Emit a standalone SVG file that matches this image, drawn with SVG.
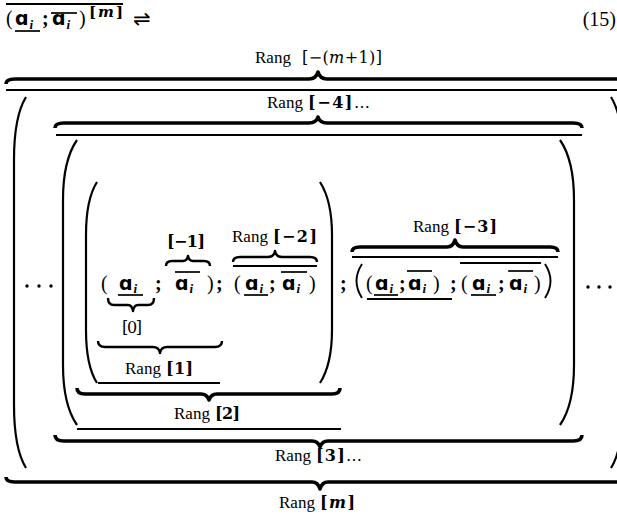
<svg xmlns="http://www.w3.org/2000/svg" width="617" height="514" viewBox="0 0 617 514">
<style>
.lbl{font-family:"Liberation Serif","Times New Roman",serif;font-size:17px;fill:#000}
.mb{font-family:"DejaVu Serif",serif;font-size:16px;fill:#000}
.bd{font-weight:bold}
.it{font-style:italic}
.al{font-family:"DejaVu Sans",sans-serif;font-weight:bold;font-size:19px;fill:#000}
.sub{font-family:"Liberation Serif",serif;font-weight:bold;font-style:italic;font-size:13px;fill:#000}
.p{font-family:"Liberation Serif","Times New Roman",serif;font-size:20px;fill:#000}
.sc{font-family:"Liberation Serif","Times New Roman",serif;font-size:20px;font-weight:bold;fill:#000}
.rule{stroke:#000;stroke-width:2.2;fill:none}
.thin{stroke:#000;stroke-width:1.7;fill:none}
.br{fill:none;stroke:#000;stroke-width:3.6;stroke-linejoin:round}
.brs{fill:none;stroke:#000;stroke-width:2.4;stroke-linejoin:round}
.par{fill:none;stroke:#000;stroke-width:2.2}
</style>
<rect width="617" height="514" fill="#fff"/>

<g id="title">
  <line class="rule" x1="6" y1="4" x2="123" y2="4"/>
  <text class="p" x="6" y="25">(</text>
  <text class="al" x="15" y="25">ɑ</text><text class="sub" x="29.5" y="29">i</text>
  <line class="thin" x1="15" y1="31" x2="40" y2="31"/>
  <text class="sc" x="42" y="25">;</text>
  <text class="al" x="52" y="25">ɑ</text><text class="sub" x="66.5" y="29">i</text>
  <line class="thin" x1="51" y1="13" x2="77" y2="13"/>
  <text class="p" x="79" y="25">)</text>
  <text class="mb bd" x="89" y="17" textLength="34" lengthAdjust="spacing" style="font-size:15px">[<tspan class="it">m</tspan>]</text>
  <text x="133" y="26" style="font-family:'DejaVu Sans',sans-serif;font-size:21px">⇌</text>
  <text class="p" x="616" y="26" text-anchor="end">(15)</text>
</g>

<g id="braces">
  <path class="br" d="M6,84 Q6,79 15,79 L309,79 Q316,79 318,72 Q320,79 327,79 L622,79 Q631,79 631,84"/>
  <path class="br" d="M55,128 Q55,123 64,123 L309,123 Q316,123 318,117 Q320,123 327,123 L573,123 Q582,123 582,128"/>
  <path class="brs" d="M166,266 Q166,261 172,261 L183,261 Q187,261 188,256 Q189,261 193,261 L204,261 Q210,261 210,266"/>
  <path class="brs" d="M233,262 Q233,257 240,257 L268,257 Q274,257 275,251 Q276,257 282,257 L310,257 Q317,257 317,262"/>
  <path class="br" d="M352,252 Q352,247 360,247 L447,247 Q453,247 455,240 Q457,247 463,247 L550,247 Q558,247 558,252"/>
  <path class="brs" d="M108,298 Q108,305 114,305 L128,305 Q132,305 133,311 Q134,305 138,305 L148,305 Q154,305 154,298"/>
  <path class="brs" d="M98,341 Q98,347 105,347 L153,347 Q159,347 160,353 Q161,347 167,347 L215,347 Q222,347 222,341"/>
  <path class="br" d="M77,388 Q77,394 85,394 L201,394 Q207,394 209,400 Q211,394 217,394 L332,394 Q340,394 340,388"/>
  <path class="br" d="M55,435 Q55,441 64,441 L312,441 Q318,441 320,447 Q322,441 328,441 L573,441 Q582,441 582,435"/>
  <path class="br" d="M6,477 Q6,482 15,482 L312,482 Q318,482 320,489 Q322,482 328,482 L622,482 Q631,482 631,477"/>
</g>

<g id="rules">
  <line class="rule" x1="6" y1="90" x2="617" y2="90"/>
  <line class="rule" x1="56" y1="135" x2="582" y2="135"/>
  <line class="rule" x1="233" y1="266" x2="317" y2="266"/>
  <line class="rule" x1="352" y1="257" x2="558" y2="257"/>
  <line class="rule" x1="460" y1="263" x2="541" y2="263"/>
  <line class="rule" x1="367" y1="299" x2="452" y2="299"/>
  <line class="rule" x1="98" y1="383" x2="220" y2="383"/>
  <line class="rule" x1="77" y1="429" x2="341" y2="429"/>
</g>

<g id="parens">
  <path class="par" d="M26,97 C18,110 14,128 14,160 L14,405 C14,437 18,455 26,468"/>
  <path class="par" d="M611,97 C619,110 623,128 623,160 L623,405 C623,437 619,455 611,468"/>
  <path class="par" d="M77,140 C68,153 63,172 63,200 L63,365 C63,393 68,412 77,425"/>
  <path class="par" d="M560,140 C569,153 574,172 574,200 L574,365 C574,393 569,412 560,425"/>
  <path class="par" d="M97,182 C90,193 86,210 86,235 L86,330 C86,355 90,372 97,383"/>
  <path class="par" d="M320,182 C327,193 332,210 332,235 L332,330 C332,355 327,372 320,383"/>
  <path class="par" d="M362,264 Q351,281 362,298" style="stroke-width:1.9"/>
  <path class="par" d="M545,264 Q556,281 545,298" style="stroke-width:1.9"/>
</g>

<g id="dots">
  <circle cx="27" cy="286" r="1.7"/><circle cx="39" cy="286" r="1.7"/><circle cx="51" cy="286" r="1.7"/>
  <circle cx="588" cy="287" r="1.7"/><circle cx="599" cy="287" r="1.7"/><circle cx="610" cy="287" r="1.7"/>
</g>

<g id="rang1-group">
  <text class="p" x="101" y="290">(</text>
  <text class="al" x="119" y="290">ɑ</text><text class="sub" x="133.5" y="293">i</text>
  <line class="thin" x1="118" y1="295" x2="143" y2="295"/>
  <text class="sc" x="155" y="290">;</text>
  <text class="al" x="175" y="290">ɑ</text><text class="sub" x="189.5" y="293">i</text>
  <line class="thin" x1="175" y1="272" x2="200" y2="272"/>
  <text class="p" x="207" y="290">)</text>
  <text class="sc" x="216" y="290">;</text>
</g>

<g id="rang-2-group">
  <text class="p" x="234" y="290">(</text>
  <text class="al" x="245" y="290">ɑ</text><text class="sub" x="259.5" y="293">i</text>
  <line class="thin" x1="244" y1="295" x2="268" y2="295"/>
  <text class="sc" x="269" y="290">;</text>
  <text class="al" x="282" y="290">ɑ</text><text class="sub" x="296.5" y="293">i</text>
  <line class="thin" x1="281" y1="272" x2="307" y2="272"/>
  <text class="p" x="309" y="290">)</text>
</g>

<g id="rang-3-group">
  <text class="sc" x="340" y="290">;</text>
  <text class="p" x="366" y="290">(</text>
  <text class="al" x="375" y="290">ɑ</text><text class="sub" x="389.5" y="293">i</text>
  <line class="thin" x1="374" y1="295" x2="398" y2="295"/>
  <text class="sc" x="399" y="290">;</text>
  <text class="al" x="408" y="290">ɑ</text><text class="sub" x="422.5" y="293">i</text>
  <line class="thin" x1="407" y1="271" x2="432" y2="271"/>
  <text class="p" x="433" y="290">)</text>
  <text class="sc" x="450" y="290">;</text>
  <text class="p" x="461" y="290">(</text>
  <text class="al" x="472" y="290">ɑ</text><text class="sub" x="486.5" y="293">i</text>
  <line class="thin" x1="471" y1="295" x2="496" y2="295"/>
  <text class="sc" x="498" y="290">;</text>
  <text class="al" x="509" y="290">ɑ</text><text class="sub" x="523.5" y="293">i</text>
  <line class="thin" x1="508" y1="271" x2="533" y2="271"/>
  <text class="p" x="534" y="290">)</text>
</g>

<g id="labels">
  <text class="lbl" x="255" y="63">Rang</text>
  <text class="mb" x="302" y="63" textLength="80" lengthAdjust="spacing">[−(<tspan class="it">m</tspan>+1)]</text>
  <text class="lbl" x="267" y="108">Rang</text>
  <text class="mb" x="308" y="108" textLength="62" lengthAdjust="spacing"><tspan class="bd">[−4]</tspan>…</text>
  <text class="mb bd" x="167" y="247" textLength="38" lengthAdjust="spacing">[−1]</text>
  <text class="lbl" x="232" y="242">Rang</text>
  <text class="mb bd" x="273" y="242" textLength="44" lengthAdjust="spacing">[−2]</text>
  <text class="lbl" x="413" y="232">Rang</text>
  <text class="mb bd" x="454" y="232" textLength="43" lengthAdjust="spacing">[−3]</text>
  <text class="mb" x="122" y="333" textLength="20" lengthAdjust="spacing">[0]</text>
  <text class="lbl" x="125" y="374">Rang</text>
  <text class="mb bd" x="166" y="374" textLength="27" lengthAdjust="spacing">[1]</text>
  <text class="lbl" x="174" y="419">Rang</text>
  <text class="mb bd" x="215" y="419" textLength="25" lengthAdjust="spacing">[2]</text>
  <text class="lbl" x="275" y="461">Rang</text>
  <text class="mb" x="316" y="461" textLength="46" lengthAdjust="spacing"><tspan class="bd">[3]</tspan>…</text>
  <text class="lbl" x="279" y="508">Rang</text>
  <text class="mb bd" x="320" y="508" textLength="35" lengthAdjust="spacing">[<tspan class="it">m</tspan>]</text>
</g>
</svg>
